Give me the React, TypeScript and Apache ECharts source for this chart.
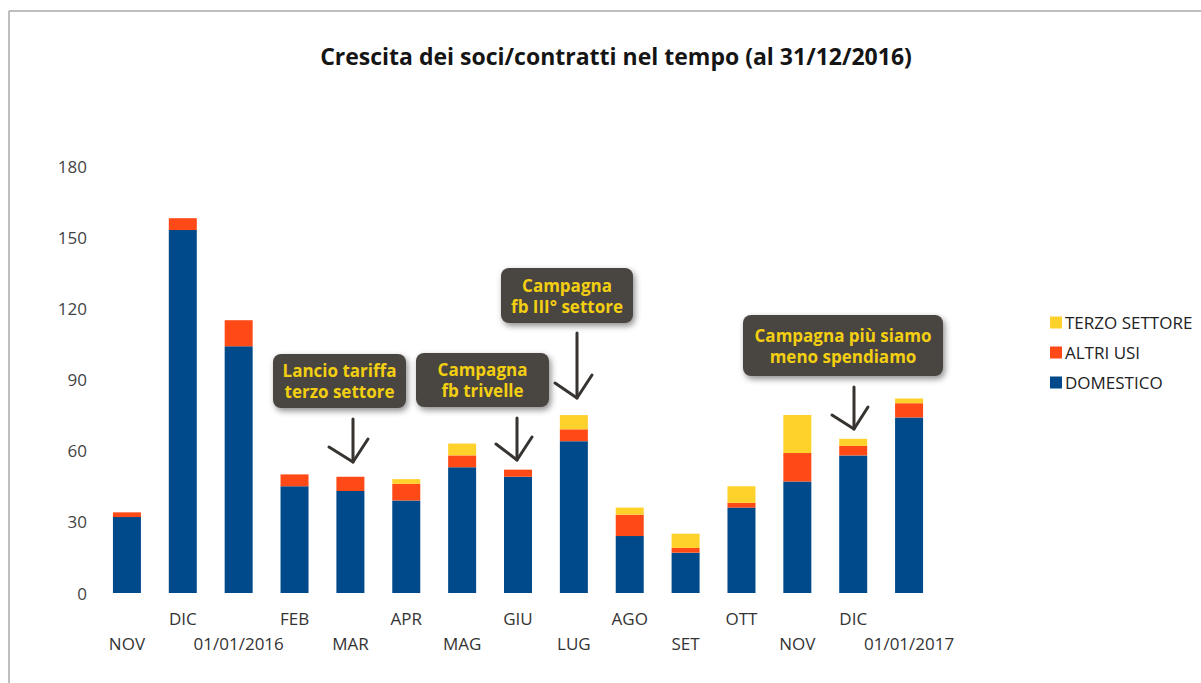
import React, { useEffect, useRef } from "react";
import * as echarts from "echarts";

const categories = ["NOV", "DIC", "01/01/2016", "FEB", "MAR", "APR", "MAG", "GIU", "LUG", "AGO", "SET", "OTT", "NOV", "DIC", "01/01/2017"];
const domestico = [32, 153, 104, 45, 43, 39, 53, 49, 64, 24, 17, 36, 47, 58, 74];
const altriUsi = [2, 5, 11, 5, 6, 7, 5, 3, 5, 9, 2, 2, 12, 4, 6];
const terzoSettore = [0, 0, 0, 0, 0, 2, 5, 0, 6, 3, 6, 7, 16, 3, 2];
const yTicks = { min: 0, max: 180, interval: 30 };

const FONT = "'Open Sans', 'Noto Sans', sans-serif";
const BOX_FILL = "#4a4540";
const BOX_TEXT = "#f3cf12";
const ARROW = "#363330";

function callout(x: number, y: number, w: number, h: number, text: string) {
  return {
    type: "group",
    children: [
      {
        type: "rect",
        shape: { x, y, width: w, height: h, r: 8 },
        style: {
          fill: BOX_FILL,
          shadowBlur: 6,
          shadowOffsetX: 2,
          shadowOffsetY: 3,
          shadowColor: "rgba(0,0,0,0.45)",
        },
      },
      {
        type: "text",
        x: x + w / 2,
        y: y + h / 2,
        style: {
          text,
          fill: BOX_TEXT,
          font: `bold 17px ${FONT}`,
          align: "center",
          verticalAlign: "middle",
          lineHeight: 21,
        },
      },
    ],
  };
}

function arrow(x: number, y1: number, y2: number, l: [number, number], r: [number, number]) {
  return {
    type: "group",
    children: [
      {
        type: "line",
        shape: { x1: x, y1, x2: x, y2 },
        style: { stroke: ARROW, lineWidth: 3, lineCap: "round" },
      },
      {
        type: "polyline",
        shape: { points: [l, [x, y2], r] },
        style: { stroke: ARROW, lineWidth: 3, lineCap: "round", lineJoin: "round", fill: "none" },
      },
    ],
  };
}

export default function App() {
  const ref = useRef<HTMLDivElement>(null);
  useEffect(() => {
    if (!ref.current) return;
    const chart = echarts.init(ref.current, null, { renderer: "svg" });
    chart.setOption({
      animation: false,
      backgroundColor: "#ffffff",
      title: {
        text: "Crescita dei soci/contratti nel tempo (al 31/12/2016)",
        left: 611,
        textAlign: "center",
        top: 39,
        textStyle: { fontFamily: FONT, fontWeight: "bold", fontSize: 23, color: "#151515" },
      },
      legend: {
        orient: "vertical",
        left: 1045,
        top: 309,
        itemWidth: 12,
        itemHeight: 12,
        itemGap: 13,
        icon: "rect",
        data: ["TERZO SETTORE", "ALTRI USI", "DOMESTICO"],
        textStyle: { fontFamily: FONT, fontSize: 17, color: "#222", padding: [0, 0, 0, -2] },
      },
      grid: { left: 99, right: 264, top: 166, bottom: 90, containLabel: false },
      xAxis: {
        type: "category",
        data: categories,
        axisLine: { show: false },
        axisTick: { show: false },
        axisLabel: {
          interval: 0,
          margin: 13,
          fontFamily: FONT,
          fontSize: 17,
          color: "#333",
          lineHeight: 25,
          formatter: (v: string, i: number) => (i % 2 === 0 ? "\n" + v : v),
        },
      },
      yAxis: {
        type: "value",
        min: yTicks.min,
        max: yTicks.max,
        interval: yTicks.interval,
        splitLine: { show: false },
        axisLine: { show: false },
        axisTick: { show: false },
        axisLabel: { margin: 12, fontFamily: FONT, fontSize: 17, color: "#444" },
      },
      series: [
        {
          name: "DOMESTICO",
          type: "bar",
          stack: "tot",
          data: domestico,
          barWidth: 28,
          itemStyle: { color: "#004a8c" },
        },
        {
          name: "ALTRI USI",
          type: "bar",
          stack: "tot",
          data: altriUsi,
          barWidth: 28,
          itemStyle: { color: "#ff4a17" },
        },
        {
          name: "TERZO SETTORE",
          type: "bar",
          stack: "tot",
          data: terzoSettore,
          barWidth: 28,
          itemStyle: { color: "#ffd12b" },
        },
      ],
      graphic: [
        {
          type: "line",
          shape: { x1: 9, y1: 11, x2: 1201, y2: 11 },
          style: { stroke: "#a8a8a8", lineWidth: 1.5 },
        },
        {
          type: "line",
          shape: { x1: 9, y1: 11, x2: 9, y2: 683 },
          style: { stroke: "#a8a8a8", lineWidth: 1.5 },
        },
        callout(273, 354, 133, 54, "Lancio tariffa\nterzo settore"),
        callout(416, 353, 133, 54, "Campagna\nfb trivelle"),
        callout(501, 268, 132, 55, "Campagna\nfb III° settore"),
        callout(743, 315, 200, 61, "Campagna più siamo\nmeno spendiamo"),
        arrow(353, 419, 462, [329, 447], [368, 439]),
        arrow(517, 418, 460, [496, 444], [532, 437]),
        arrow(577, 333, 398, [555, 383], [592, 375]),
        arrow(854, 387, 429, [832, 415], [868, 407]),
      ],
    });
    return () => chart.dispose();
  }, []);
  return (
    <div
      ref={ref}
      style={{ position: "fixed", left: 0, top: 0, width: 1201, height: 683 }}
    />
  );
}
